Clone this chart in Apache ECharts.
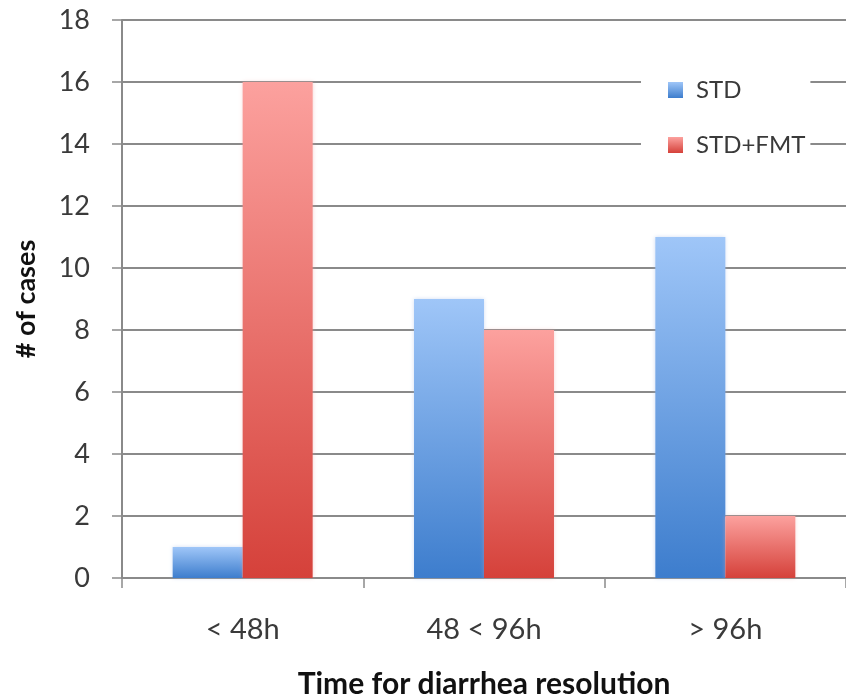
<!DOCTYPE html>
<html>
<head>
<meta charset="utf-8">
<script src="https://cdn.jsdelivr.net/npm/echarts@6/dist/echarts.min.js"></script>
<style>html,body{margin:0;padding:0;background:#fff}#c{width:846px;height:700px}</style>
</head>
<body>
<div id="c"></div>
<script>
var categories = ['< 48h', '48 < 96h', '> 96h'];
var stdValues = [1, 9, 11];
var stdFmtValues = [16, 8, 2];
var seriesNames = ['STD', 'STD+FMT'];

function grad(top, bottom) {
  return new echarts.graphic.LinearGradient(0, 0, 0, 1, [
    {offset: 0, color: top}, {offset: 1, color: bottom}
  ]);
}
var font = 'Lato, "Open Sans", sans-serif';
var chart = echarts.init(document.getElementById('c'));
chart.setOption({
  animation: false,
  backgroundColor: '#fff',
  grid: {left: 122, right: 0, top: 20, bottom: 122, containLabel: false, outerBoundsMode: 'none'},
  legend: {
    orient: 'vertical', left: 641, top: 68,
    padding: [10, 5, 10, 27],
    backgroundColor: '#fff',
    itemWidth: 15, itemHeight: 16, itemGap: 31,
    icon: 'rect',
    textStyle: {fontFamily: font, fontSize: 24, color: '#3a3a3a', padding: [0, 0, 0, 8]},
    data: seriesNames
  },
  xAxis: {
    type: 'category', data: categories,
    name: 'Time for diarrhea resolution', nameLocation: 'middle', nameGap: 91,
    nameTextStyle: {fontFamily: font, fontSize: 30, fontWeight: 'bold', color: '#111'},
    axisLine: {lineStyle: {color: '#8a8a8a', width: 2}},
    axisTick: {show: true, length: 10, lineStyle: {color: '#8a8a8a', width: 1.5}},
    axisLabel: {fontFamily: font, fontSize: 29, color: '#3a3a3a', margin: 37}
  },
  yAxis: {
    type: 'value', min: 0, max: 18, interval: 2,
    name: '# of cases', nameLocation: 'middle', nameGap: 82, nameRotate: 90,
    nameTextStyle: {fontFamily: font, fontSize: 27, fontWeight: 'bold', color: '#111'},
    axisLine: {show: true, lineStyle: {color: '#8a8a8a', width: 2}},
    axisTick: {show: true, length: 10, lineStyle: {color: '#8a8a8a', width: 1.5}},
    axisLabel: {fontFamily: font, fontSize: 27, color: '#3a3a3a', margin: 32},
    splitLine: {lineStyle: {color: '#8a8a8a', width: 2}}
  },
  series: [
    {
      name: seriesNames[0], type: 'bar', data: stdValues,
      barGap: '0%', barCategoryGap: '42%',
      itemStyle: {color: grad('#9fc6f8', '#3d7dcd'), shadowBlur: 4, shadowColor: 'rgba(150,180,230,0.45)'}
    },
    {
      name: seriesNames[1], type: 'bar', data: stdFmtValues,
      itemStyle: {color: grad('#fca19e', '#d5413a'), shadowBlur: 4, shadowColor: 'rgba(235,160,160,0.45)'}
    }
  ]
});
</script>
</body>
</html>
